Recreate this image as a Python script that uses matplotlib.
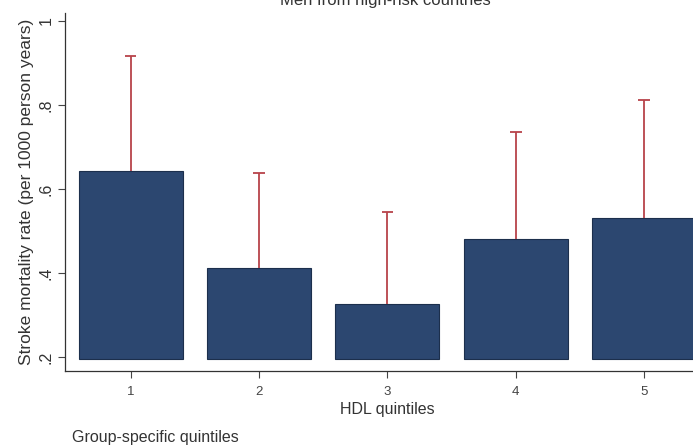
import matplotlib.pyplot as plt
import numpy as np

plt.rcParams["font.family"] = ["Liberation Sans", "DejaVu Sans"]

# Stroke mortality by HDL quintile, men from high-risk countries
quintiles = [1, 2, 3, 4, 5]
rates = [0.643, 0.412, 0.326, 0.481, 0.531]
upper_ci = [0.917, 0.638, 0.545, 0.736, 0.812]
base = 0.195

bar_color = "#2c4770"
err_color = "#b8434a"

fig = plt.figure(figsize=(6.93, 4.48), dpi=100)
ax = fig.add_axes([0.094, 0.172, 0.93, 0.80])

x = np.array(quintiles)
heights = np.array(rates) - base
ax.bar(x, heights, bottom=base, width=0.81, color=bar_color,
       edgecolor="#1c2f4c", linewidth=0.8, zorder=2)

# upper confidence limit only: a stem from the bar top plus a cap
ax.vlines(x, rates, upper_ci, color=err_color, linewidth=1.3, zorder=3)
ax.hlines(upper_ci, x - 0.045, x + 0.045, color=err_color, linewidth=1.3, zorder=3)

ax.set_xlim(0.49, 5.51)
ax.set_ylim(0.167, 1.02)
ax.spines["left"].set_bounds(0.167, 1.02)
for s in ["top", "right"]:
    ax.spines[s].set_visible(False)
for s in ["left", "bottom"]:
    ax.spines[s].set_color("#333333")
    ax.spines[s].set_linewidth(0.9)

ax.set_xticks(quintiles)
ax.set_xticklabels([str(q) for q in quintiles], fontsize=9.5, color="#444444")
yt = [0.2, 0.4, 0.6, 0.8, 1.0]
ax.set_yticks(yt)
ax.set_yticklabels([".2", ".4", ".6", ".8", "1"], fontsize=11.5, rotation=90,
                   va="center", color="#333333")
ax.tick_params(axis="both", length=5, width=0.8, color="#444444")
ax.tick_params(axis="x", pad=6)

ax.set_xlabel("HDL quintiles", fontsize=11.5, color="#333333", labelpad=3)
ax.set_ylabel("Stroke mortality rate (per 1000 person years)", fontsize=12.5,
              color="#333333", labelpad=3)

fig.text(385 / 693, 1 - 5 / 448, "Men from high-risk countries", fontsize=12,
         ha="center", va="baseline", color="#333333")
fig.text(72 / 693, 1 - 437 / 448, "Group-specific quintiles", fontsize=11.5,
         ha="left", va="center", color="#333333")

fig.savefig("out.png", dpi=100)
